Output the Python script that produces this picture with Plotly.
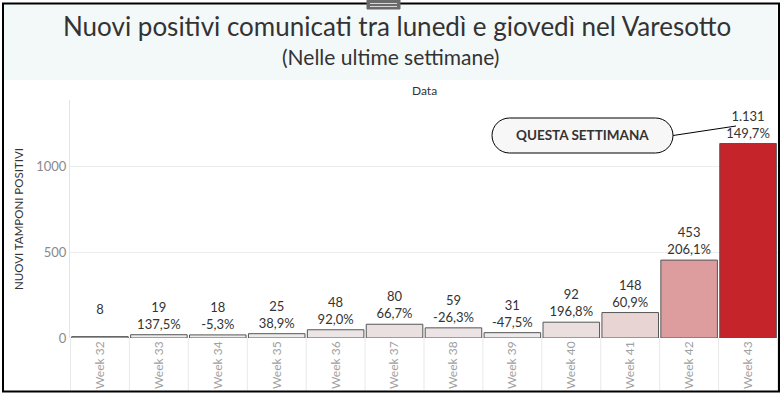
import plotly.graph_objects as go

# ---- data ----
weeks = ["Week 32", "Week 33", "Week 34", "Week 35", "Week 36", "Week 37",
         "Week 38", "Week 39", "Week 40", "Week 41", "Week 42", "Week 43"]
positives = [8, 19, 18, 25, 48, 80, 59, 31, 92, 148, 453, 1131]
pct_labels = ["", "137,5%", "-5,3%", "38,9%", "92,0%", "66,7%", "-26,3%",
              "-47,5%", "196,8%", "60,9%", "206,1%", "149,7%"]
y_ticks = [0, 500, 1000]

title = "Nuovi positivi comunicati tra lunedì e giovedì nel Varesotto"
subtitle = "(Nelle ultime settimane)"
y_title = "NUOVI TAMPONI POSITIVI"
header = "Data"
callout = "QUESTA SETTIMANA"

# ---- helpers (pixel -> paper) ----
W, H = 783, 396
def px(x):
    return x / W
def py(y):
    return 1 - y / H

FONT = "Lato, 'Noto Sans', sans-serif"

def it_num(v):
    return f"{v:,}".replace(",", ".")

labels = [f"{it_num(v)}<br>{p if p else '\u00a0'}" for v, p in zip(positives, pct_labels)]

fig = go.Figure()
fig.add_trace(go.Bar(
    x=weeks, y=positives,
    text=labels, textposition="outside", cliponaxis=False,
    constraintext="none",
    textfont=dict(family=FONT, size=13, color="#333333"),
    marker=dict(color=positives, cmin=0, cmax=max(positives),
                colorscale=[[0, "#eeeeee"], [1, "#c4242a"]],
                line=dict(color="#555555", width=1)),
    hoverinfo="x+y",
))

shapes = []
# title band
shapes.append(dict(type="rect", xref="paper", yref="paper", layer="below",
                   x0=px(4), x1=px(777), y0=py(80), y1=py(4),
                   fillcolor="#f3f9f9", line=dict(width=0)))
# category separators below axis
for i in range(len(weeks) + 1):
    shapes.append(dict(type="line", xref="x", yref="paper", layer="below",
                       x0=i - 0.5, x1=i - 0.5, y0=py(391), y1=py(338),
                       line=dict(color="#e8e8e8", width=1)))
# outer border
shapes.append(dict(type="rect", xref="paper", yref="paper",
                   x0=px(3), x1=px(779), y0=py(391.5), y1=py(3.5),
                   line=dict(color="#000000", width=2)))
# grip icon at top
shapes.append(dict(type="rect", xref="paper", yref="paper",
                   x0=px(367), x1=px(400), y0=py(9), y1=py(0),
                   fillcolor="#6b6b6b", line=dict(color="#6b6b6b", width=1)))
for yy in (3.5, 6.5):
    shapes.append(dict(type="line", xref="paper", yref="paper",
                       x0=px(370), x1=px(397), y0=py(yy), y1=py(yy),
                       line=dict(color="#d8d8d8", width=1)))
# callout pill
r, hw = 17.5, 90.5
k = 0.5523 * r
a = hw - r
path = (f"M {-a},{r} L {a},{r} C {a + k},{r} {hw},{k} {hw},0 "
        f"C {hw},{-k} {a + k},{-r} {a},{-r} L {-a},{-r} "
        f"C {-a - k},{-r} {-hw},{-k} {-hw},0 C {-hw},{k} {-a - k},{r} {-a},{r} Z")
shapes.append(dict(type="path", xref="paper", yref="paper",
                   xsizemode="pixel", ysizemode="pixel",
                   xanchor=px(582.5), yanchor=py(135.5), path=path,
                   fillcolor="#f7f7f7", line=dict(color="#000000", width=1)))
shapes.append(dict(type="line", xref="paper", yref="paper",
                   x0=px(673), y0=py(135.5), x1=px(736), y1=py(126),
                   line=dict(color="#000000", width=1)))

annotations = [
    dict(text=title, xref="paper", yref="paper", x=px(397), y=py(26),
         showarrow=False, xanchor="center", yanchor="middle",
         font=dict(family=FONT, size=26, color="#333333")),
    dict(text=subtitle, xref="paper", yref="paper", x=px(390), y=py(57),
         showarrow=False, xanchor="center", yanchor="middle",
         font=dict(family=FONT, size=21, color="#333333")),
    dict(text=header, xref="paper", yref="paper", x=px(424), y=py(90),
         showarrow=False, xanchor="center", yanchor="middle",
         font=dict(family=FONT, size=12, color="#333333")),
    dict(text=callout, xref="paper", yref="paper", x=px(582.5), y=py(135.5),
         showarrow=False, xanchor="center", yanchor="middle",
         font=dict(family=FONT, size=13.5, color="#333333", weight="bold")),
]

fig.update_layout(
    width=W, height=H, autosize=False,
    margin=dict(l=0, r=0, t=0, b=0, pad=0),
    paper_bgcolor="#ffffff", plot_bgcolor="#ffffff",
    showlegend=False, bargap=0.04,
    shapes=shapes, annotations=annotations,
    font=dict(family=FONT),
    xaxis=dict(domain=[px(70), px(778)], type="category", automargin=False,
               tickangle=-90, showgrid=False, showline=False, ticks="",
               tickfont=dict(family=FONT, size=12, color="#a0a0a0")),
    yaxis=dict(domain=[py(338), py(100)], range=[0, 1384], automargin=False,
               tickvals=y_ticks, showgrid=True, gridcolor="#ececec",
               zeroline=False, showline=True, linecolor="#e4e4e4",
               ticks="", tickfont=dict(family=FONT, size=13, color="#8a8a8a"),
               title=dict(text=y_title, standoff=10,
                          font=dict(family=FONT, size=11.5, color="#333333"))),
)

fig.write_html("out.html",
               config={"displayModeBar": False, "responsive": False},
               post_script="document.body.style.margin='0';document.body.style.overflow='hidden';")
